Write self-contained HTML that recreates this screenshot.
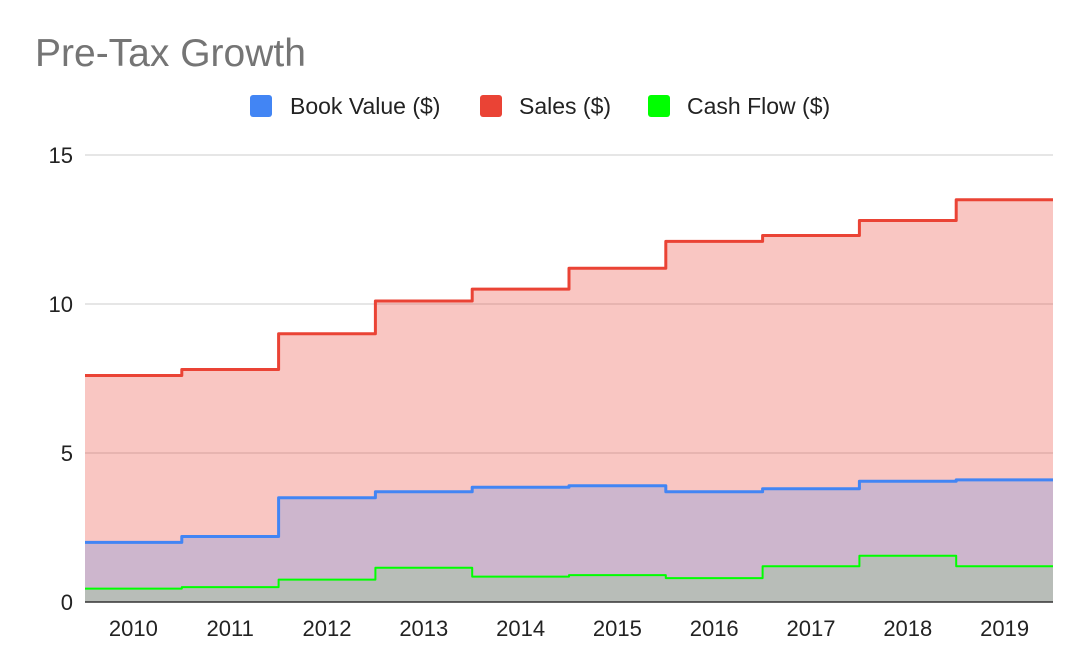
<!DOCTYPE html>
<html><head><meta charset="utf-8"><style>
body{margin:0;background:#fff;font-family:"Liberation Sans",Arial,sans-serif}
svg{display:block}
</style></head><body>
<svg id="chart" width="1086" height="672">
<text x="35" y="66" font-size="39" fill="#757575">Pre-Tax Growth</text>
<g>
<g><rect x="250" y="95" width="22" height="22" rx="3" fill="#4285f4"/><text x="290" y="114" font-size="23" fill="#222">Book Value ($)</text></g>
<g><rect x="480" y="95" width="22" height="22" rx="3" fill="#ea4335"/><text x="519" y="114" font-size="23" fill="#222">Sales ($)</text></g>
<g><rect x="648" y="95" width="22" height="22" rx="3" fill="#00ff00"/><text x="687" y="114" font-size="23" fill="#222">Cash Flow ($)</text></g>
</g>
<g id="grid"></g><g id="areas"></g><g id="lines"></g><g id="axes"></g>
</svg>
<script>
const categories=["2010","2011","2012","2013","2014","2015","2016","2017","2018","2019"];
const sales=[7.6,7.8,9.0,10.1,10.5,11.2,12.1,12.3,12.8,13.5];
const bookValue=[2.0,2.2,3.5,3.7,3.85,3.9,3.7,3.8,4.05,4.1];
const cashFlow=[0.45,0.5,0.75,1.15,0.85,0.9,0.8,1.2,1.55,1.2];
const yTicks=[0,5,10,15];

const NS="http://www.w3.org/2000/svg";
const X0=85,X1=1053,Y0=602,Y15=155;
const bw=(X1-X0)/categories.length;
const x=i=>X0+i*bw;
const y=v=>Y0-(v/15)*(Y0-Y15);
function mk(tag,attrs,parent){const e=document.createElementNS(NS,tag);for(const k in attrs)e.setAttribute(k,attrs[k]);document.getElementById(parent).appendChild(e);return e;}

yTicks.forEach(t=>{
  if(t>0){const g=mk("line",{x1:X0,x2:X1,y1:y(t),y2:y(t),stroke:"#cccccc","stroke-width":1},"grid");
  
  }
  const l=mk("text",{x:73,y:y(t)+8,"font-size":22,"text-anchor":"end",fill:"#222"},"axes");
  l.textContent=t;
  
  
});
categories.forEach((c,i)=>{
  const l=mk("text",{x:x(i)+bw/2,y:636,"font-size":22,"text-anchor":"middle",fill:"#222"},"axes");
  l.textContent=c;
  
  
});
const base=mk("line",{x1:X0,x2:X1,y1:Y0,y2:Y0,stroke:"#333","stroke-width":1.5},"axes");



function stepPath(vals){let d="M"+x(0)+","+y(vals[0]);vals.forEach((v,i)=>{d+=" L"+x(i)+","+y(v)+" L"+x(i+1)+","+y(v);});return d;}
const series=[["sales",sales,"#ea4335",3,0.3],["book-value",bookValue,"#4285f4",3,0.24],["cash-flow",cashFlow,"#00ff00",2,0.1]];
series.forEach(([n,vals,col,w,op])=>{
  const a=mk("path",{d:stepPath(vals)+" L"+X1+","+Y0+" L"+X0+","+Y0+" Z",fill:col,"fill-opacity":op,stroke:"none"},"areas");
  
  
  const l=mk("path",{d:stepPath(vals),fill:"none",stroke:col,"stroke-width":w,"stroke-linejoin":"round"},"lines");
  
  
});
</script>
</body></html>
